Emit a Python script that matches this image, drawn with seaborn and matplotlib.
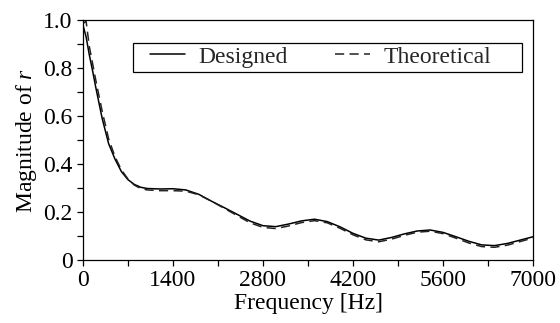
import matplotlib
matplotlib.use("Agg")
import matplotlib.pyplot as plt
import seaborn as sns
import numpy as np
import pandas as pd
from matplotlib.ticker import MultipleLocator, FixedLocator, FuncFormatter
from matplotlib.patches import Rectangle

freq = [0, 50, 100, 150, 200, 250, 300, 400, 500, 600, 700, 800, 900, 1000,
        1200, 1400, 1600, 1800, 2000, 2200, 2400, 2600, 2800, 3000, 3200, 3400,
        3600, 3800, 4000, 4200, 4400, 4600, 4800, 5000, 5200, 5400, 5600, 5800,
        6000, 6200, 6400, 6600, 6800, 7000]
designed = [0.98, 0.93, 0.855, 0.79, 0.72, 0.655, 0.59, 0.485, 0.42, 0.368,
            0.335, 0.315, 0.303, 0.298, 0.296, 0.297, 0.292, 0.274, 0.245,
            0.218, 0.19, 0.162, 0.143, 0.139, 0.150, 0.163, 0.170, 0.160,
            0.138, 0.111, 0.091, 0.083, 0.094, 0.109, 0.121, 0.125, 0.115,
            0.097, 0.078, 0.063, 0.060, 0.069, 0.083, 0.097]
theoretical = [0.985, 0.995, 0.89, 0.82, 0.75, 0.685, 0.62, 0.505, 0.43, 0.375,
               0.338, 0.312, 0.298, 0.292, 0.289, 0.289, 0.287, 0.272, 0.245,
               0.215, 0.185, 0.155, 0.136, 0.131, 0.142, 0.156, 0.164, 0.155,
               0.132, 0.105, 0.084, 0.076, 0.087, 0.103, 0.116, 0.120, 0.110,
               0.091, 0.071, 0.056, 0.053, 0.062, 0.077, 0.092]
series_names = ["Designed", "Theoretical"]
xticks = [0, 1400, 2800, 4200, 5600, 7000]
yticks = [0, 0.2, 0.4, 0.6, 0.8, 1.0]

sns.set_theme(style="ticks")
plt.rcParams['font.family'] = ['Liberation Serif', 'DejaVu Serif']
plt.rcParams['mathtext.fontset'] = 'custom'
plt.rcParams['mathtext.it'] = 'Liberation Serif:italic'
plt.rcParams['mathtext.rm'] = 'Liberation Serif'

fs = 17
fig = plt.figure(figsize=(5.6, 3.23), dpi=100)
ax = fig.add_axes([0.148, 0.195, 0.804, 0.743])

sns.lineplot(x=freq, y=designed, ax=ax, color="black", lw=1.1,
             label=series_names[0])
sns.lineplot(x=freq, y=theoretical, ax=ax, color="#222222", lw=1.1,
             linestyle=(0, (6, 3.5)), label=series_names[1])

ax.set_xlim(0, 7000)
ax.set_ylim(0, 1.0)
ax.xaxis.set_major_locator(FixedLocator(xticks))
ax.xaxis.set_minor_locator(MultipleLocator(700))
ax.yaxis.set_major_locator(FixedLocator(yticks))
ax.yaxis.set_minor_locator(MultipleLocator(0.1))
ax.yaxis.set_major_formatter(FuncFormatter(lambda v, p: "0" if abs(v) < 1e-9 else f"{v:.1f}"))
ax.xaxis.set_major_formatter(FuncFormatter(lambda v, p: f"{int(round(v))}"))
ax.tick_params(which="both", direction="out", length=4.5, width=0.9,
               color="black", labelsize=fs, pad=3, labelcolor="black")
for s in ax.spines.values():
    s.set_linewidth(0.9)
    s.set_color("black")
    s.set_visible(True)

ax.set_xlabel("Frequency [Hz]", fontsize=fs, labelpad=1, color="black")
ax.set_ylabel("Magnitude of $r$", fontsize=fs, labelpad=3, color="black")

leg = ax.legend(loc="center left", bbox_to_anchor=(0.149, 0.846),
                ncol=2, fontsize=fs, frameon=False,
                borderpad=0, handlelength=1.5, handletextpad=0.55,
                columnspacing=2.0, borderaxespad=0)
ax.add_patch(Rectangle((0.111, 0.783), 0.864, 0.121, transform=ax.transAxes,
                       fill=False, edgecolor="black", lw=0.9, zorder=5))

fig.savefig("out.png", dpi=100)
